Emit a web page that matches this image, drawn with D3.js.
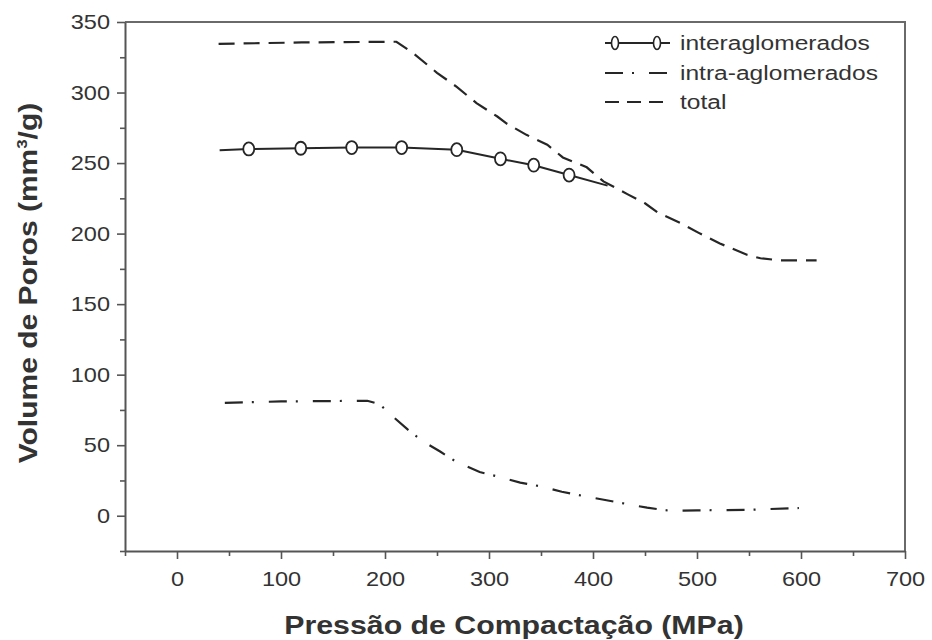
<!DOCTYPE html>
<html>
<head>
<meta charset="utf-8">
<script src="https://cdn.jsdelivr.net/npm/d3@7"></script>
<style>
  body { margin: 0; background: #fff; }
  svg { display: block; }
  text { font-family: "Liberation Sans", Arial, Helvetica, sans-serif; fill: #333; }
</style>
</head>
<body>
<svg id="chart" width="932" height="640"></svg>
<script>
// Pore volume vs. compaction pressure
const interX = [41, 69, 119, 168, 216, 269, 311, 343, 377, 414];
const interY = [259, 260, 260.5, 261, 261, 259.5, 253, 248.5, 241.5, 234];
const interMarked = [false, true, true, true, true, true, true, true, true, false];

const intraX = [46, 100, 183, 195, 208, 222, 236, 253, 269, 291, 310, 330, 352, 370, 394, 413, 431, 452, 474, 500, 550, 598];
const intraY = [80, 81, 81.5, 79, 70, 61, 53, 45.5, 38, 31, 27.5, 23.5, 20.5, 17, 13.5, 11, 8.5, 5.7, 3.5, 3.8, 4.2, 5.5];

const totalX = [40, 120, 211, 227, 250, 269, 288, 308, 317, 336, 356, 371, 394, 410, 433, 450, 462, 484, 503, 522, 548, 561, 580, 600, 615];
const totalY = [334.5, 335.5, 336, 328, 314, 304, 292.5, 283, 278, 270, 263, 254, 247, 237, 228, 221.5, 215, 207.5, 200, 193, 185, 182.5, 181, 181, 181];

const xTicks = [0, 100, 200, 300, 400, 500, 600, 700];
const xMinor = [-50, 50, 150, 250, 350, 450, 550, 650];
const yTicks = [0, 50, 100, 150, 200, 250, 300, 350];
const yMinor = [-25, 25, 75, 125, 175, 225, 275, 325];

const legendLabels = ["interaglomerados", "intra-aglomerados", "total"];
const xTitle = "Pressão de Compactação (MPa)";

const svg = d3.select("#chart");
const mLeft = 125, mRight = 905, mTop = 22, mBottom = 551;

const x = d3.scaleLinear().domain([-50, 700]).range([mLeft, mRight]);
const y = d3.scaleLinear().domain([-25, 350]).range([mBottom, mTop]);

const ink = "#262626";
const frame = "#555";

// widen glyphs horizontally (wide sans face)
function widen(sel, f) {
  sel.each(function () {
    const w = this.getComputedTextLength();
    d3.select(this).attr("textLength", w * f).attr("lengthAdjust", "spacingAndGlyphs");
  });
}

// frame (top and right edges)
svg.append("path")
  .attr("d", `M${mLeft},${mTop}H${mRight}V${mBottom}`)
  .attr("fill", "none").attr("stroke", "#6a6a6a").attr("stroke-width", 2);

// y axis
svg.append("g").attr("transform", `translate(${mLeft},0)`)
  .call(d3.axisLeft(y).tickValues(yTicks).tickSize(8).tickPadding(7).tickSizeOuter(0));
svg.append("g").attr("transform", `translate(${mLeft},0)`)
  .call(d3.axisLeft(y).tickValues(yMinor).tickSize(5).tickFormat("").tickSizeOuter(0))
  .select(".domain").remove();

// x axis
svg.append("g").attr("transform", `translate(0,${mBottom})`)
  .call(d3.axisBottom(x).tickValues(xTicks).tickSize(8).tickPadding(12).tickSizeOuter(0));
svg.append("g").attr("transform", `translate(0,${mBottom})`)
  .call(d3.axisBottom(x).tickValues(xMinor).tickSize(5).tickFormat("").tickSizeOuter(0))
  .select(".domain").remove();

svg.selectAll(".domain").attr("stroke", frame).attr("stroke-width", 2);
svg.selectAll(".tick line").attr("stroke", frame).attr("stroke-width", 1.6);
svg.selectAll(".tick text").style("font-size", "21px").attr("fill", "#3a3a3a")
  .call(widen, 1.12);

// axis titles
svg.append("text")
  .attr("transform", "translate(514,634) scale(1.165,1)")
  .attr("text-anchor", "middle")
  .style("font-size", "26px").style("font-weight", "bold")
  .text(xTitle);

const yt = svg.append("text")
  .attr("transform", "translate(37,283) rotate(-90) scale(1.2,1)")
  .attr("text-anchor", "middle")
  .style("font-size", "25px").style("font-weight", "bold");
yt.append("tspan").text("Volume de Poros (mm");
yt.append("tspan").attr("dy", -10).style("font-size", "14px").text("3");
yt.append("tspan").attr("dy", 10).text("/g)");

// series
const line = d3.line().x(d => x(d[0])).y(d => y(d[1]));

const interPts = interX.map((v, i) => [v, interY[i]]);
const intraPts = intraX.map((v, i) => [v, intraY[i]]);
const totalPts = totalX.map((v, i) => [v, totalY[i]]);

svg.append("path").datum(totalPts).attr("d", line)
  .attr("fill", "none").attr("stroke", ink).attr("stroke-width", 2.2)
  .attr("stroke-dasharray", "16,9");

svg.append("path").datum(intraPts).attr("d", line)
  .attr("fill", "none").attr("stroke", ink).attr("stroke-width", 2.2)
  .attr("stroke-dasharray", "18,9,2,15");

svg.append("path").datum(interPts).attr("d", line)
  .attr("fill", "none").attr("stroke", ink).attr("stroke-width", 2);

svg.selectAll("ellipse.m").data(interPts.filter((d, i) => interMarked[i]))
  .join("ellipse").attr("class", "m")
  .attr("cx", d => x(d[0])).attr("cy", d => y(d[1]))
  .attr("rx", 5.5).attr("ry", 6.5)
  .attr("fill", "#fff").attr("stroke", ink).attr("stroke-width", 1.8);

// legend
const lx0 = 605, lx1 = 670, ly = [43, 73, 102];
const legStyles = [null, "18,9,2,15", "14,8"];
legendLabels.forEach((lab, i) => {
  const l = svg.append("line").attr("x1", lx0).attr("x2", lx1).attr("y1", ly[i]).attr("y2", ly[i])
    .attr("stroke", ink).attr("stroke-width", 2);
  if (legStyles[i]) l.attr("stroke-dasharray", legStyles[i]);
  if (i === 0) {
    [615, 657].forEach(cx => svg.append("ellipse").attr("cx", cx).attr("cy", ly[i])
      .attr("rx", 3.5).attr("ry", 6.5).attr("fill", "#fff").attr("stroke", ink).attr("stroke-width", 1.6));
  }
  svg.append("text").attr("transform", `translate(680,${ly[i] + 7}) scale(1.17,1)`)
    .style("font-size", "21px").text(lab);
});
</script>
</body>
</html>
